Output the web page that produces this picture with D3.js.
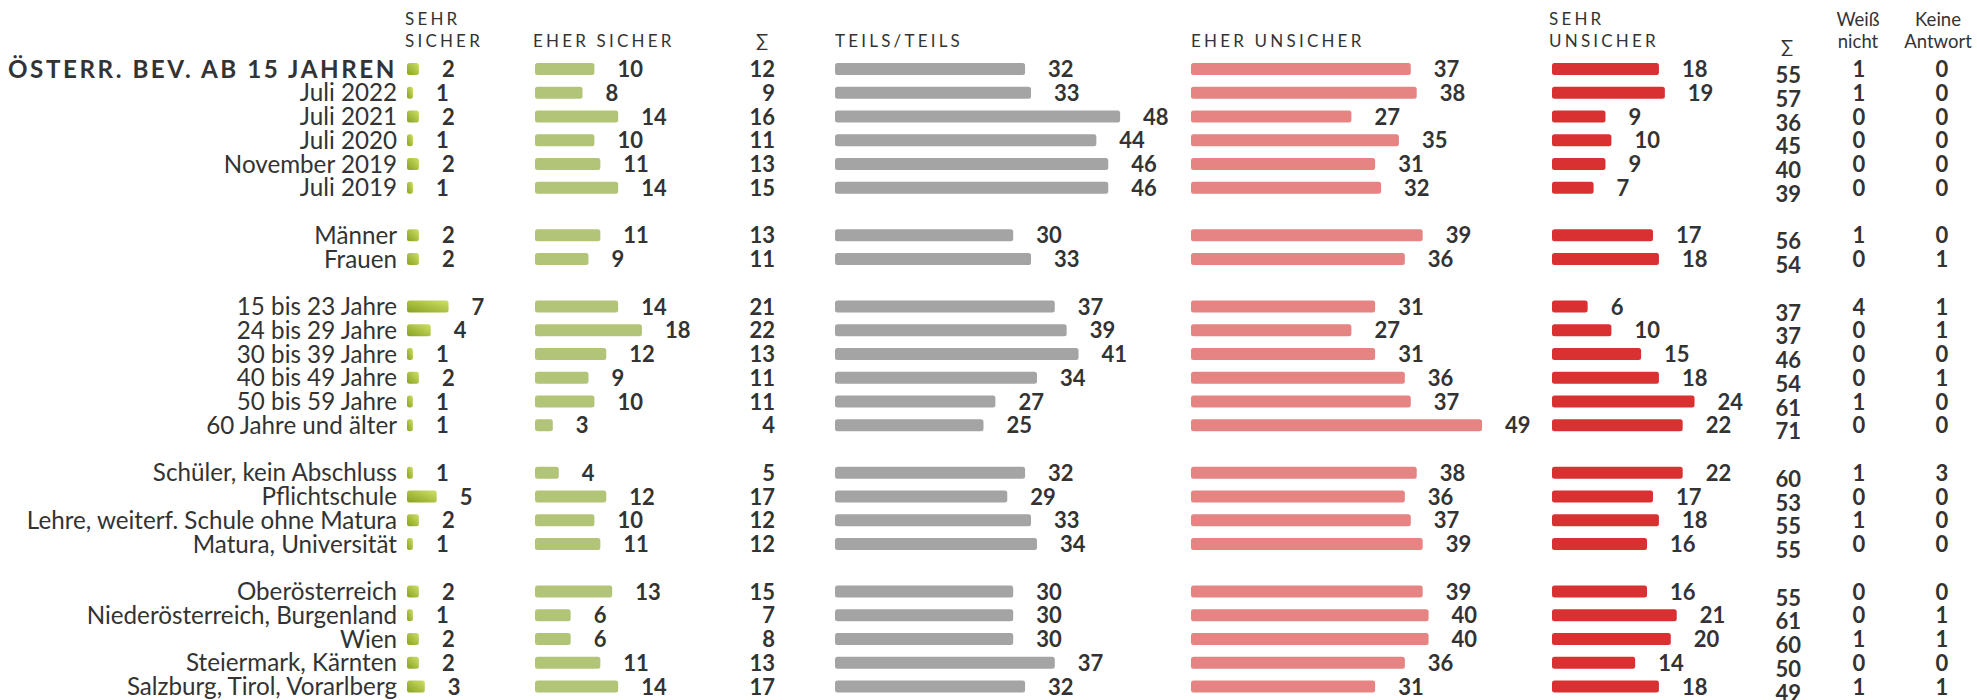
<!DOCTYPE html>
<html>
<head>
<meta charset="utf-8">
<script src="https://cdn.jsdelivr.net/npm/d3@7"></script>
<style>
  body { margin: 0; background: #fff; }
  svg text { font-family: Lato, "Noto Sans", sans-serif; fill: #333; }
</style>
</head>
<body>
<svg id="chart" width="1977" height="700"></svg>
<script>
// row labels, grouped; an empty row is left between groups
const groups = [
  ['ÖSTERR. BEV. AB 15 JAHREN', 'Juli 2022', 'Juli 2021', 'Juli 2020', 'November 2019', 'Juli 2019'],
  ['Männer', 'Frauen'],
  ['15 bis 23 Jahre', '24 bis 29 Jahre', '30 bis 39 Jahre', '40 bis 49 Jahre', '50 bis 59 Jahre', '60 Jahre und älter'],
  ['Schüler, kein Abschluss', 'Pflichtschule', 'Lehre, weiterf. Schule ohne Matura', 'Matura, Universität'],
  ['Oberösterreich', 'Niederösterreich, Burgenland', 'Wien', 'Steiermark, Kärnten', 'Salzburg, Tirol, Vorarlberg']
]

const sehrSicher = [2, 1, 2, 1, 2, 1, 2, 2, 7, 4, 1, 2, 1, 1, 1, 5, 2, 1, 2, 1, 2, 2, 3]
const eherSicher = [10, 8, 14, 10, 11, 14, 11, 9, 14, 18, 12, 9, 10, 3, 4, 12, 10, 11, 13, 6, 6, 11, 14]
const sumSicher = [12, 9, 16, 11, 13, 15, 13, 11, 21, 22, 13, 11, 11, 4, 5, 17, 12, 12, 15, 7, 8, 13, 17]
const teilsTeils = [32, 33, 48, 44, 46, 46, 30, 33, 37, 39, 41, 34, 27, 25, 32, 29, 33, 34, 30, 30, 30, 37, 32]
const eherUnsicher = [37, 38, 27, 35, 31, 32, 39, 36, 31, 27, 31, 36, 37, 49, 38, 36, 37, 39, 39, 40, 40, 36, 31]
const sehrUnsicher = [18, 19, 9, 10, 9, 7, 17, 18, 6, 10, 15, 18, 24, 22, 22, 17, 18, 16, 16, 21, 20, 14, 18]
const sumUnsicher = [55, 57, 36, 45, 40, 39, 56, 54, 37, 37, 46, 54, 61, 71, 60, 53, 55, 55, 55, 61, 60, 50, 49]
const weissNicht = [1, 1, 0, 0, 0, 0, 1, 0, 4, 0, 0, 0, 1, 0, 1, 0, 1, 0, 0, 0, 1, 0, 1]
const keineAntwort = [0, 0, 0, 0, 0, 0, 0, 1, 1, 1, 0, 1, 0, 0, 3, 0, 0, 0, 0, 1, 1, 0, 1]

// flatten the groups into rows with a slot index (gaps count as one slot)
const rows = []
let slot = 0
groups.forEach(g => {
  g.forEach(label => {
    const i = rows.length
    rows.push({
      label, slot, i,
      sehrSicher: sehrSicher[i],
      eherSicher: eherSicher[i],
      sumSicher: sumSicher[i],
      teils: teilsTeils[i],
      eherUnsicher: eherUnsicher[i],
      sehrUnsicher: sehrUnsicher[i],
      sumUnsicher: sumUnsicher[i],
      weiss: weissNicht[i],
      keine: keineAntwort[i]
    })
    slot++
  })
  slot++
})

const svg = d3.select('#chart')

const y = d3.scaleLinear().domain([0, 26]).range([69, 686.5])
const w = d3.scaleLinear().domain([0, 100]).range([0, 594])

const barH = 12

// bar columns: key, left edge, fill
const barCols = [
  { key: 'sehrSicher', x0: 407, fill: 'url(#gradSicher)' },
  { key: 'eherSicher', x0: 535, fill: '#b2c477' },
  { key: 'teils', x0: 835, fill: '#a4a4a4' },
  { key: 'eherUnsicher', x0: 1191, fill: '#e68383' },
  { key: 'sehrUnsicher', x0: 1552, fill: '#d93131' }
]

const defs = svg.append('defs')
const grad = defs.append('linearGradient')
  .attr('id', 'gradSicher')
  .attr('x1', 0).attr('y1', 1).attr('x2', 1).attr('y2', 0)
grad.append('stop').attr('offset', '0%').attr('stop-color', '#87a11f')
grad.append('stop').attr('offset', '100%').attr('stop-color', '#cfe068')

// headers
const headers = svg.append('g').attr('class', 'headers')
  .style('font-size', '17px')
  .style('letter-spacing', '3.2px')

function header (x, lines, baseY) {
  const t = headers.append('text').attr('x', x).attr('y', baseY)
  lines.forEach((l, k) => {
    t.append('tspan').attr('x', x).attr('dy', k === 0 ? 0 : 22).text(l)
  })
}
header(405, ['SEHR', 'SICHER'], 25)
header(533, ['EHER SICHER'], 47)
header(835, ['TEILS/TEILS'], 47)
header(1191, ['EHER UNSICHER'], 47)
header(1549, ['SEHR', 'UNSICHER'], 25)

svg.append('text').attr('x', 762).attr('y', 47)
  .attr('text-anchor', 'middle').style('font-size', '18px').text('∑')
svg.append('text').attr('x', 1787).attr('y', 53)
  .attr('text-anchor', 'middle').style('font-size', '18px').text('∑')

function smallHeader (x, lines) {
  const t = svg.append('text').attr('x', x).attr('y', 26)
    .attr('text-anchor', 'middle').style('font-size', '18.5px')
  lines.forEach((l, k) => {
    t.append('tspan').attr('x', x).attr('dy', k === 0 ? 0 : 21.5).text(l)
  })
}
smallHeader(1858, ['Weiß', 'nicht'])
smallHeader(1938, ['Keine', 'Antwort'])

// row labels
svg.append('g')
  .selectAll('text')
  .data(rows)
  .join('text')
  .attr('x', 397)
  .attr('y', d => y(d.slot) + 8.5)
  .attr('text-anchor', 'end')
  .style('font-size', '24.2px')
  .style('font-weight', d => d.i === 0 ? 700 : 400)
  .style('letter-spacing', d => d.i === 0 ? '2.55px' : '0px')
  .text(d => d.label)

// bars and their values
barCols.forEach(col => {
  const g = svg.append('g')
  g.selectAll('rect')
    .data(rows)
    .join('rect')
    .attr('x', col.x0)
    .attr('y', d => y(d.slot) - barH / 2)
    .attr('width', d => w(d[col.key]))
    .attr('height', barH)
    .attr('rx', 2.5)
    .attr('fill', col.fill)
  g.selectAll('text')
    .data(rows)
    .join('text')
    .attr('x', d => col.x0 + w(d[col.key]) + 23)
    .attr('y', d => y(d.slot) + 8)
    .style('font-size', '22px')
    .style('font-weight', 700)
    .text(d => d[col.key])
})

// sums and the two last columns
svg.append('g')
  .selectAll('text')
  .data(rows)
  .join('text')
  .attr('x', 775)
  .attr('y', d => y(d.slot) + 8)
  .attr('text-anchor', 'end')
  .style('font-size', '22px')
  .style('font-weight', 700)
  .text(d => d.sumSicher)

svg.append('g')
  .selectAll('text')
  .data(rows)
  .join('text')
  .attr('x', 1801)
  .attr('y', d => y(d.slot) + 14)
  .attr('text-anchor', 'end')
  .style('font-size', '22px')
  .style('font-weight', 700)
  .text(d => d.sumUnsicher)

svg.append('g')
  .selectAll('text')
  .data(rows)
  .join('text')
  .attr('x', 1859)
  .attr('y', d => y(d.slot) + 8)
  .attr('text-anchor', 'middle')
  .style('font-size', '22px')
  .style('font-weight', 700)
  .text(d => d.weiss)

svg.append('g')
  .selectAll('text')
  .data(rows)
  .join('text')
  .attr('x', 1942)
  .attr('y', d => y(d.slot) + 8)
  .attr('text-anchor', 'middle')
  .style('font-size', '22px')
  .style('font-weight', 700)
  .text(d => d.keine)
</script>
</body>
</html>
